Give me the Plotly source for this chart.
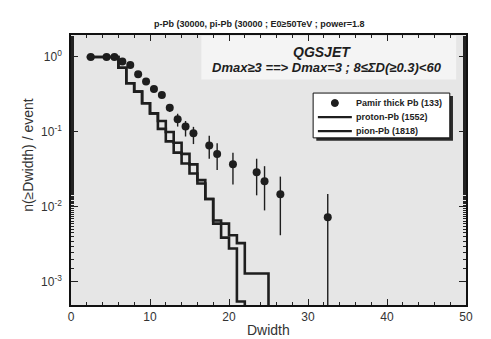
import plotly.graph_objects as go

# ---- data ----
pamir_x = [2.5, 4.5, 5.5, 6.5, 7.5, 8.5, 9.5, 10.5, 11.5, 12.5, 13.5, 14.5, 15.5,
           17.5, 18.5, 20.5, 23.5, 24.5, 26.5, 32.5]
pamir_y = [1.0, 1.0, 1.0, 0.87, 0.78, 0.59, 0.47, 0.375, 0.31, 0.21, 0.148, 0.118, 0.096,
           0.066, 0.051, 0.037, 0.029, 0.022, 0.0148, 0.0073]
pamir_err_plus = [0, 0, 0, 0, 0.01, 0.012, 0.014, 0.016, 0.02, 0.025, 0.027, 0.022, 0.021,
                  0.023, 0.02, 0.016, 0.015, 0.013, 0.0106, 0.0076]
pamir_err_minus = [0, 0, 0, 0, 0.01, 0.012, 0.014, 0.016, 0.02, 0.025, 0.03, 0.031, 0.027,
                   0.022, 0.02, 0.017, 0.0147, 0.013, 0.0106, 0.00729]

proton_edges = [2, 3, 4, 5, 6, 7, 8, 9, 10, 11, 12, 13, 14, 15, 16, 17, 18, 19, 20, 21, 22]
proton_vals = [1.0, 1.0, 1.0, 1.0, 0.72, 0.446, 0.345, 0.241, 0.177, 0.11, 0.075, 0.053,
               0.038, 0.028, 0.0206, 0.0128, 0.0066, 0.0039, 0.0028, 0.00055, 0.0]

pion_edges = [2, 3, 4, 5, 6, 7, 8, 9, 10, 11, 12, 13, 14, 15, 16, 17, 18, 19, 20, 21, 22,
              23, 24, 25]
pion_vals = [1.0, 1.0, 1.0, 1.0, 0.72, 0.446, 0.345, 0.241, 0.177, 0.14, 0.10, 0.072,
             0.051, 0.037, 0.0228, 0.0128, 0.006, 0.006, 0.0042, 0.0033, 0.0013, 0.0013,
             0.0013, 0.0]

legend_labels = ["Pamir thick Pb (133)", "proton-Pb (1552)", "pion-Pb (1818)"]

x_ticks = [0, 10, 20, 30, 40, 50]
y_tickvals = [1, 0.1, 0.01, 0.001]
y_ticktext = ["10<sup>0</sup>", "10<sup>-1</sup>", "10<sup>-2</sup>", "10<sup>-3</sup>"]

FLOOR = 1e-6  # zero drawn below the visible log range
INK = "#1e1e1e"


def floor0(vals):
    return [v if v > 0 else FLOOR for v in vals]


fig = go.Figure()
fig.add_trace(go.Scatter(
    x=pamir_x, y=pamir_y, mode="markers", name=legend_labels[0],
    marker=dict(color=INK, size=8),
    error_y=dict(type="data", array=pamir_err_plus, arrayminus=pamir_err_minus,
                 color=INK, thickness=1.4, width=0),
))
fig.add_trace(go.Scatter(
    x=proton_edges, y=floor0(proton_vals), mode="lines", line_shape="hv",
    name=legend_labels[1], line=dict(color=INK, width=2.6),
))
fig.add_trace(go.Scatter(
    x=pion_edges, y=floor0(pion_vals), mode="lines", line_shape="hv",
    name=legend_labels[2], line=dict(color=INK, width=2.6),
))

# light box behind the model text
fig.add_shape(type="rect", xref="paper", yref="paper", x0=0.33, x1=0.975, y0=0.835, y1=0.997,
              fillcolor="#f4f4f4", line=dict(width=0), layer="below")

# ---- hand-drawn legend (box, shadow, symbols, labels) ----
lx0, lx1, ly0, ly1 = 0.613, 0.959, 0.619, 0.785
fig.add_shape(type="rect", xref="paper", yref="paper", x0=lx0 + 0.008, x1=lx1 + 0.008,
              y0=ly0 - 0.011, y1=ly1 - 0.011, fillcolor="#2a2a2a", line=dict(width=0))
fig.add_shape(type="rect", xref="paper", yref="paper", x0=lx0, x1=lx1, y0=ly0, y1=ly1,
              fillcolor="white", line=dict(color="#111", width=1))
row_y = [0.748, 0.696, 0.644]
sym_x0, sym_x1, text_x = 0.625, 0.711, 0.716
fig.add_shape(type="circle", xref="paper", yref="paper", xsizemode="pixel", ysizemode="pixel",
              xanchor=0.668, yanchor=row_y[0], x0=-3.5, x1=3.5, y0=-3.5, y1=3.5,
              fillcolor=INK, line=dict(color=INK, width=1))
for ry in row_y[1:]:
    fig.add_shape(type="line", xref="paper", yref="paper", x0=sym_x0, x1=sym_x1, y0=ry, y1=ry,
                  line=dict(color=INK, width=2.4))
for lab, ry in zip(legend_labels, row_y):
    fig.add_annotation(text=lab, xref="paper", yref="paper", x=text_x, y=ry, xanchor="left",
                       yanchor="middle", showarrow=False,
                       font=dict(family="Arial", size=9, color="#222", weight="bold"))

fig.add_annotation(text="p-Pb (30000, pi-Pb (30000 ; E0≥50TeV ; power=1.8", xref="paper",
                   yref="paper", x=0.478, y=1.041, xanchor="center", yanchor="middle",
                   showarrow=False,
                   font=dict(family="Arial", size=9, color="#222", weight="bold"))
fig.add_annotation(text="QGSJET", xref="paper", yref="paper", x=0.635, y=0.937,
                   xanchor="center", yanchor="middle", showarrow=False,
                   font=dict(family="Arial", size=14, color=INK, weight="bold", style="italic"))
fig.add_annotation(text="Dmax≥3 ==> Dmax=3 ; 8≤ΣD(≥0.3)<60", xref="paper", yref="paper",
                   x=0.648, y=0.881, xanchor="center", yanchor="middle", showarrow=False,
                   font=dict(family="Arial", size=13, color=INK, weight="bold", style="italic"))
fig.add_annotation(text="Dwidth", xref="paper", yref="paper", x=0.5, y=-0.092,
                   xanchor="center", yanchor="middle", showarrow=False,
                   font=dict(family="Arial", size=14, color="#333"))
fig.add_annotation(text="n(≥Dwidth) / event", xref="paper", yref="paper", x=-0.109, y=0.556,
                   xanchor="center", yanchor="middle", textangle=-90, showarrow=False,
                   font=dict(family="Arial", size=14, color="#333"))

axis_common = dict(showline=True, linecolor="#111", linewidth=1.5, mirror="ticks",
                   ticks="inside", tickcolor="#222", showgrid=False, zeroline=False,
                   tickfont=dict(family="Arial", size=12, color="#333"))

# the page body has an 8px default margin; figure is shrunk so the plot area lands right
fig.update_layout(
    width=483, height=331,
    margin=dict(l=63, r=25, t=27, b=34),
    paper_bgcolor="white", plot_bgcolor="#e6e6e6",
    xaxis=dict(range=[0, 50], tickvals=x_ticks, ticklen=6,
               minor=dict(ticks="inside", dtick=2, ticklen=3, tickcolor="#222"), **axis_common),
    yaxis=dict(type="log", range=[-3.307, 0.293], tickvals=y_tickvals, ticktext=y_ticktext,
               ticklen=7, ticklabelstandoff=5,
               minor=dict(ticks="inside", ticklen=3, tickcolor="#222"), **axis_common),
    showlegend=False,
)

fig.write_html("out.html")
